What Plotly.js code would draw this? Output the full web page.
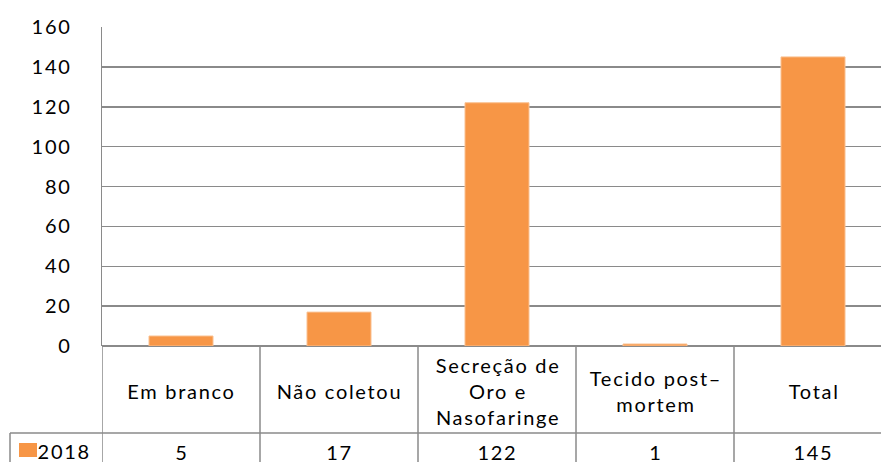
<!DOCTYPE html>
<html><head><meta charset="utf-8">
<script src="https://cdn.plot.ly/plotly-3.0.1.min.js"></script>
<style>html,body{margin:0;padding:0;background:#fff}#chart{width:881px;height:462px}
#chart text{letter-spacing:1.7px}</style>
</head><body><div id="chart"></div>
<script>
// Data
const categories = ["Em branco", "Não coletou", "Secreção de Oro e Nasofaringe", "Tecido post–mortem", "Total"];
const categoryLabels = ["Em branco", "Não coletou", "Secreção de<br>Oro e<br>Nasofaringe", "Tecido post–<br>mortem", "Total"];
const seriesName = "2018";
const values2018 = [5, 17, 122, 1, 145];
const yTicks = [0, 20, 40, 60, 80, 100, 120, 140, 160];

// Layout geometry (pixels)
const W = 881, H = 462;
const mL = 102, mR = 0, mT = 27, mB = 116;
const plotH = H - mT - mB;
const catW = 158;
const xr = [-0.5, -0.5 + (W - mL - mR) / catW];
const py = p => (H - mB - p) / plotH;           // pixel y -> paper y
const px = p => (p - mL) / (W - mL - mR);        // pixel x -> paper x
const FONT = "Lato, 'Open Sans', sans-serif";
const FS = 20;
const gridColor = "#8a8a8a";
const barColor = "#F79646";
const LS = 1.7; // letter spacing compensation

const shapes = [];
const annotations = [];
const tableTop = 346, rowSplit = 433, tableBottom = 475;

// vertical table lines at category boundaries
for (let i = 0; i <= categories.length; i++) {
  shapes.push({type: "line", xref: "x", yref: "paper", x0: i - 0.5, x1: i - 0.5,
    y0: py(tableTop), y1: py(tableBottom), line: {color: gridColor, width: 1.5}});
}
// left legend cell border
shapes.push({type: "line", xref: "paper", yref: "paper", x0: px(10), x1: px(10),
  y0: py(rowSplit), y1: py(tableBottom), line: {color: gridColor, width: 1.5}});
// row split line
shapes.push({type: "line", xref: "paper", yref: "paper", x0: px(10), x1: 1,
  y0: py(rowSplit), y1: py(rowSplit), line: {color: gridColor, width: 1.5}});
// legend swatch
shapes.push({type: "rect", xref: "paper", yref: "paper", x0: px(19), x1: px(37),
  y0: py(457), y1: py(443), fillcolor: barColor, line: {width: 0}});
annotations.push({xref: "paper", yref: "paper", x: px(39), y: py(451), xanchor: "left", yanchor: "middle",
  text: seriesName, showarrow: false, font: {family: FONT, size: FS, color: "#000"}});

categories.forEach((c, i) => {
  annotations.push({xref: "x", yref: "paper", x: c, y: py(391), xanchor: "center", yanchor: "middle",
    xshift: LS / 2,
    text: categoryLabels[i], showarrow: false, align: "center",
    font: {family: FONT, size: FS, color: "#000"}});
  annotations.push({xref: "x", yref: "paper", x: c, y: py(452), xanchor: "center", yanchor: "middle",
    xshift: LS / 2,
    text: String(values2018[i]), showarrow: false,
    font: {family: FONT, size: FS, color: "#000"}});
});

const trace = {
  type: "bar", x: categories, y: values2018, name: seriesName,
  marker: {color: barColor, line: {color: "#FAC090", width: 1}},
  hoverinfo: "x+y"
};

const layout = {
  width: W, height: H,
  margin: {l: mL, r: mR, t: mT, b: mB, pad: 0},
  paper_bgcolor: "#fff", plot_bgcolor: "#fff",
  showlegend: false,
  bargap: 0.595,
  font: {family: FONT, color: "#000"},
  xaxis: {type: "category", range: xr, showticklabels: false, ticks: "",
    showgrid: false, zeroline: false, showline: false, fixedrange: true},
  yaxis: {range: [0, 160], tickvals: yTicks, ticktext: yTicks.map(String),
    showgrid: true, gridcolor: gridColor, gridwidth: 1.5,
    zeroline: true, zerolinecolor: gridColor, zerolinewidth: 1.5,
    showline: true, linecolor: gridColor, linewidth: 1.5,
    ticks: "", ticklabelstandoff: 25,
    tickfont: {family: FONT, size: FS, color: "#000"}, fixedrange: true},
  shapes: shapes,
  annotations: annotations
};

Plotly.newPlot("chart", [trace], layout, {displayModeBar: false, staticPlot: true});
</script></body></html>
